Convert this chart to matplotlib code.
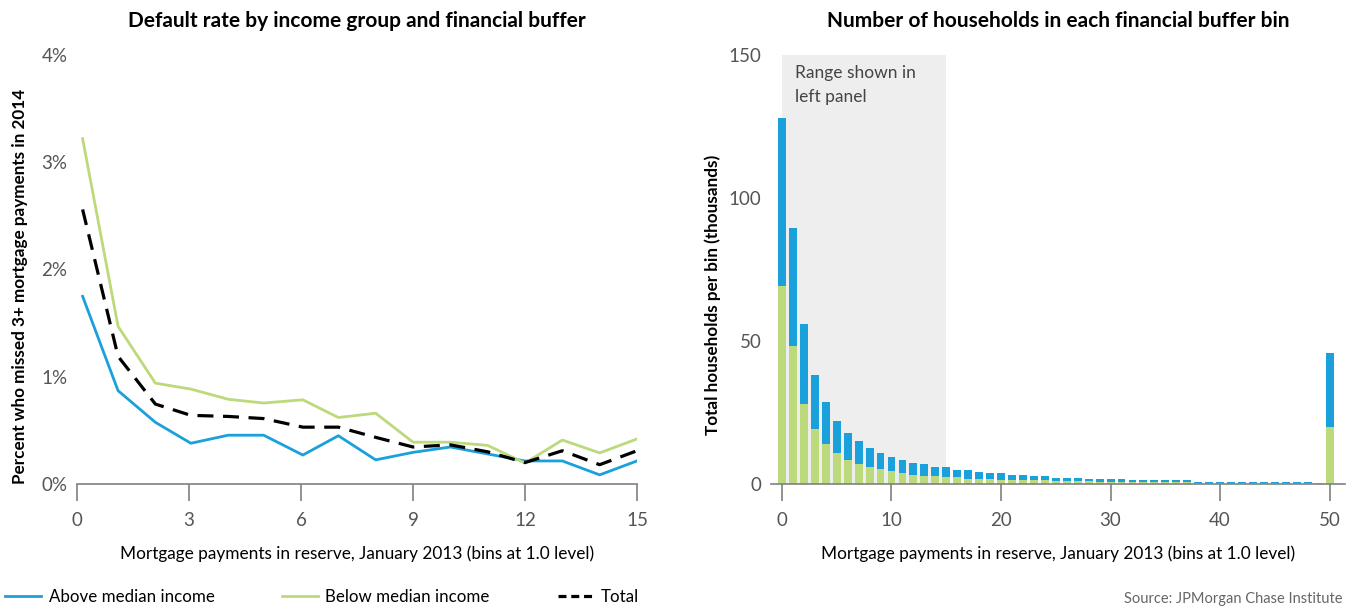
import matplotlib
matplotlib.use('Agg')
import matplotlib.pyplot as plt
from matplotlib.lines import Line2D
import numpy as np

plt.rcParams['font.family'] = ['Lato', 'DejaVu Sans']

# Left panel: default rate (%) by months of payments in reserve
reserve_x = [0.15, 1.1, 2.1, 3.05, 4.05, 5.0, 6.05, 7.0, 8.0, 9.0, 10.0, 11.0, 12.0, 13.0, 14.0, 15.0]
above_median = [1.75, 0.87, 0.575, 0.38, 0.455, 0.455, 0.27, 0.45, 0.225, 0.295, 0.345, 0.28, 0.215, 0.215, 0.085, 0.215]
below_median = [3.22, 1.47, 0.94, 0.885, 0.79, 0.755, 0.785, 0.62, 0.66, 0.39, 0.39, 0.36, 0.195, 0.41, 0.29, 0.42]
total = [2.56, 1.19, 0.745, 0.64, 0.63, 0.61, 0.53, 0.53, 0.435, 0.345, 0.365, 0.30, 0.20, 0.31, 0.18, 0.31]

# Right panel: households per bin (thousands)
bins = list(range(51))
hh_total = [127.9, 89.5, 55.8, 38.1, 28.5, 22.1, 18.0, 15.0, 12.6, 10.8,
            9.4, 8.3, 7.3, 6.9, 5.9, 5.9, 4.9, 4.9, 4.3, 3.8,
            3.8, 3.3, 3.3, 2.9, 2.8, 2.2, 2.2, 2.2, 1.8, 1.8,
            1.8, 1.8, 1.4, 1.4, 1.4, 1.4, 1.4, 1.4, 0.8, 0.8,
            0.8, 0.8, 0.8, 0.8, 0.8, 0.8, 0.8, 0.8, 0.8, 0.35, 45.7]
hh_below = [69.3, 48.4, 28.0, 19.2, 14.1, 10.8, 8.5, 7.0, 5.8, 5.3,
            4.4, 3.8, 3.3, 2.9, 2.9, 2.3, 2.3, 1.9, 1.9, 1.7,
            1.3, 1.3, 1.3, 1.3, 1.3, 0.9, 0.9, 0.9, 0.9, 0.8,
            0.8, 0.8, 0.6, 0.6, 0.6, 0.6, 0.6, 0.6, 0.35, 0.35,
            0.35, 0.35, 0.35, 0.35, 0.35, 0.35, 0.35, 0.35, 0.35, 0.3, 20.1]
hh_above = [t - b for t, b in zip(hh_total, hh_below)]

blue = '#1aa1dc'
green = '#bcd97c'
axis_gray = '#808080'
label_gray = '#555555'

fig = plt.figure(figsize=(13.51, 6.07), dpi=100)
ax1 = fig.add_axes([77 / 1351, 123 / 607, 560 / 1351, 429 / 607])
ax2 = fig.add_axes([771 / 1351, 123 / 607, 574 / 1351, 429 / 607])

# left panel
ax1.plot(reserve_x, above_median, color=blue, lw=2)
ax1.plot(reserve_x, below_median, color=green, lw=2)
ax1.plot(reserve_x, total, color='black', lw=2.3, dashes=(5, 3))
ax1.set_xlim(0, 15)
ax1.set_ylim(0, 4)
ax1.set_xticks([0, 3, 6, 9, 12, 15])
ax1.set_yticks([0, 1, 2, 3, 4])
ax1.set_yticklabels(['0%', '1%', '2%', '3%', '4%'])
ax1.set_title('Default rate by income group and financial buffer',
              fontsize=15, fontweight='bold', pad=20)
ax1.set_ylabel('Percent who missed 3+ mortgage payments in 2014',
               fontsize=12.3, fontweight='bold')
ax1.yaxis.set_label_coords(-0.088, 0.46)
ax1.set_xlabel('Mortgage payments in reserve, January 2013 (bins at 1.0 level)',
               fontsize=12.4, labelpad=12)

# right panel
ax2.axvspan(0, 15, ymin=0, ymax=1, color='#eeeeee', lw=0, zorder=0)
ax2.bar(bins, hh_below, width=0.72, color=green, zorder=2)
ax2.bar(bins, hh_above, bottom=hh_below, width=0.72, color=blue, zorder=2)
ax2.set_xlim(-1, 51.4)
ax2.set_ylim(0, 150)
ax2.set_xticks([0, 10, 20, 30, 40, 50])
ax2.set_yticks([0, 50, 100, 150])
ax2.text(1.2, 146.5, 'Range shown in\nleft panel', fontsize=12.5, color='#444444',
         va='top', ha='left', linespacing=1.65)
ax2.set_title('Number of households in each financial buffer bin',
              fontsize=15, fontweight='bold', pad=20)
ax2.set_ylabel('Total households per bin (thousands)',
               fontsize=12.3, fontweight='bold')
ax2.yaxis.set_label_coords(-0.087, 0.44)
ax2.set_xlabel('Mortgage payments in reserve, January 2013 (bins at 1.0 level)',
               fontsize=12.4, labelpad=12)

for ax in (ax1, ax2):
    for s in ('top', 'right', 'left'):
        ax.spines[s].set_visible(False)
    ax.spines['bottom'].set_color(axis_gray)
    ax.spines['bottom'].set_linewidth(1.2)
    ax.tick_params(axis='x', direction='out', length=12, width=1.2,
                   color=axis_gray, labelsize=13.5, labelcolor=label_gray, pad=8)
    ax.tick_params(axis='y', length=0, labelsize=13.5, labelcolor=label_gray, pad=7)

handles = [Line2D([], [], color=blue, lw=2),
           Line2D([], [], color=green, lw=2),
           Line2D([], [], color='black', lw=2.3, dashes=(2.5, 1.5))]
fig.legend(handles, ['Above median income', 'Below median income', 'Total'],
           loc='center left', bbox_to_anchor=(0.004, 1 - 597 / 607), ncol=3, frameon=False,
           fontsize=12.2, handlelength=2.1, handletextpad=0.45, columnspacing=4.0,
           borderaxespad=0, borderpad=0)

fig.text(1342 / 1351, 1 - 599 / 607, 'Source: JPMorgan Chase Institute',
         fontsize=10.5, color='#666666', ha='right', va='center')

fig.savefig('out.png', dpi=100)
